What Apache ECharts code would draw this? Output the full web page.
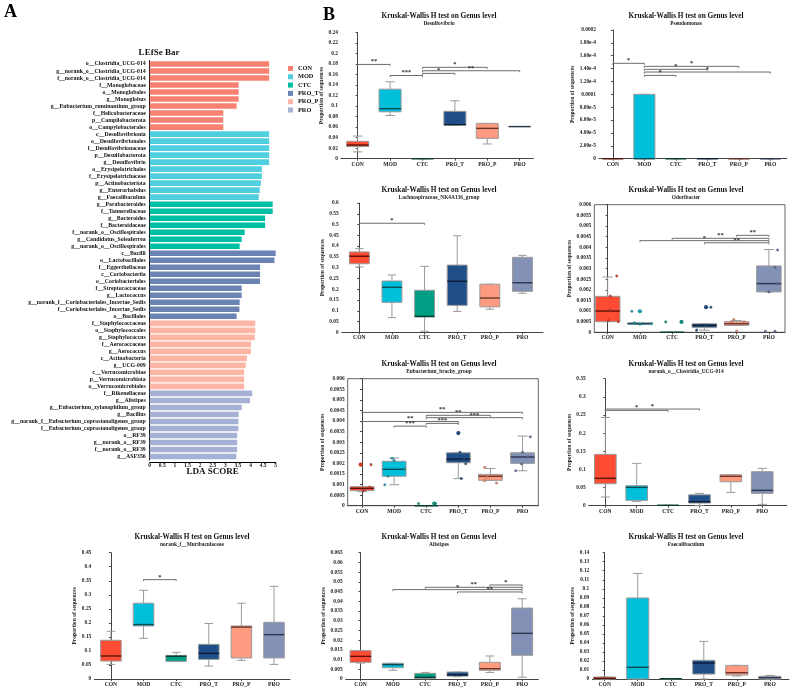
<!DOCTYPE html>
<html><head><meta charset="utf-8">
<script src="https://cdn.jsdelivr.net/npm/echarts@6/dist/echarts.min.js"></script>
<style>html,body{margin:0;padding:0;background:#fff}#c{width:790px;height:690px}</style>
</head><body><div id="c"></div>
<script>
const FONT = '"Liberation Serif", "Times New Roman", serif';
const groups = ['CON','MOD','CTC','PRO_T','PRO_P','PRO'];

// ---------- LEfSe data ----------
const lefseLabels = [
 'o__Clostridia_UCG-014','g__norank_o__Clostridia_UCG-014','f__norank_o__Clostridia_UCG-014','f__Monoglobaceae','o__Monoglobales','g__Monoglobus','g__Eubacterium_ruminantium_group','f__Helicobacteraceae','p__Campilobacterota','o__Campylobacterales',
 'c__Desulfovibrionia','o__Desulfovibrionales','f__Desulfovibrionaceae','p__Desulfobacterota','g__Desulfovibrio','o__Erysipelotrichales','f__Erysipelotrichaceae','p__Actinobacteriota','g__Enterorhabdus','g__Faecalibaculum',
 'g__Parabacteroides','f__Tannerellaceae','g__Bacteroides','f__Bacteroidaceae','f__norank_o__Oscillospirales','g__Candidatus_Soleaferrea','g__norank_o__Oscillospirales',
 'c__Bacilli','o__Lactobacillales','f__Eggerthellaceae','c__Coriobacteriia','o__Coriobacteriales','f__Streptococcaceae','g__Lactococcus','g__norank_f__Coriobacteriales_Incertae_Sedis','f__Coriobacteriales_Incertae_Sedis','o__Bacillales',
 'f__Staphylococcaceae','o__Staphylococcales','g__Staphylococcus','f__Aerococcaceae','g__Aerococcus','c__Actinobacteria','g__UCG-009','c__Verrucomicrobiae','p__Verrucomicrobiota','o__Verrucomicrobiales',
 'f__Rikenellaceae','g__Alistipes','g__Eubacterium_xylanophilum_group','g__Bacillus','g__norank_f__Eubacterium_coprostanoligenes_group','f__Eubacterium_coprostanoligenes_group','o__RF39','g__norank_o__RF39','f__norank_o__RF39','g__ASF356'
];
const lefseScores = [
 4.74,4.74,4.74,3.53,3.53,3.53,3.45,2.92,2.92,2.92,
 4.74,4.74,4.74,4.74,4.74,4.45,4.45,4.41,4.37,4.33,
 4.88,4.88,4.58,4.58,3.77,3.65,3.57,
 5.0,4.95,4.38,4.38,4.38,3.65,3.65,3.57,3.56,3.45,
 4.19,4.19,4.17,4.02,4.02,3.86,3.81,3.75,3.75,3.75,
 4.07,3.98,3.65,3.53,3.52,3.52,3.47,3.47,3.47,3.44
];
const lefseGroups = [
 'CON','CON','CON','CON','CON','CON','CON','CON','CON','CON',
 'MOD','MOD','MOD','MOD','MOD','MOD','MOD','MOD','MOD','MOD',
 'CTC','CTC','CTC','CTC','CTC','CTC','CTC',
 'PRO_T','PRO_T','PRO_T','PRO_T','PRO_T','PRO_T','PRO_T','PRO_T','PRO_T','PRO_T',
 'PRO_P','PRO_P','PRO_P','PRO_P','PRO_P','PRO_P','PRO_P','PRO_P','PRO_P','PRO_P',
 'PRO','PRO','PRO','PRO','PRO','PRO','PRO','PRO','PRO','PRO'
];
const lefseTicks = [0,0.5,1,1.5,2,2.5,3,3.5,4,4.5,5];

// ---------- Boxplot data: [min, Q1, median, Q3, max] per group ----------
const desulBox = [[0.013,0.023,0.026,0.033,0.043],[0.082,0.089,0.095,0.132,0.146],[0,0,0,0,0],[0.064,0.064,0.0646,0.09,0.11],[0.028,0.0386,0.0576,0.067,0.067],[0.061,0.061,0.061,0.061,0.061]];
const desulSig = [['CON','MOD',0.179,'**'],['MOD','CTC',0.158,'***'],['CTC','PRO_T',0.162,'*'],['CTC','PRO_P',0.1735,'*'],['CTC','PRO',0.167,'**']];

const pseudoBox = [[0,0,0,0,0],[0,0,0,0.0001,0.0001],[0,0,0,0,0],[0,0,0,0,0],[0,0,0,0,0],[0,0,0,0,0]];
const pseudoSig = [['CON','MOD',0.0001482,'*'],['MOD','PRO_P',0.0001435,'*'],['MOD','PRO_T',0.0001389,'*'],['MOD','PRO',0.0001347,'*'],['MOD','CTC',0.0001295,'*']];
const pseudoTickLabels = ['0','2.00e-5','4.00e-5','6.00e-5','8.00e-5','0.0001','1.20e-4','1.40e-4','1.60e-4','1.80e-4','0.0002'];

const lachnoBox = [[0.303,0.318,0.353,0.373,0.388],[0.068,0.139,0.209,0.238,0.266],[0.005,0.071,0.074,0.195,0.306],[0.097,0.125,0.237,0.312,0.448],[0.107,0.118,0.159,0.223,0.223],[0.181,0.19,0.23,0.348,0.357]];
const lachnoSig = [['CON','CTC',0.506,'*']];

const odoBox = [[0.0005,0.0005,0.001,0.00169,0.0026],[0.00038,0.00039,0.0004,0.00045,0.00045],[0,0,0,0,0],[0.0001,0.00022,0.00033,0.0004,0.0004],[0.00033,0.00033,0.0004,0.0005,0.00055],[0.0019,0.0019,0.00229,0.00312,0.00389]];
const odoSig = [['PRO_P','PRO',0.00456,'**'],['CTC','PRO',0.00442,'**'],['MOD','PRO',0.00431,'*'],['PRO_T','PRO',0.00421,'**']];
const odoPoints = [[0.00265,0.0017,0.00106,0.00056,0.0005],[0.00099,0.00045,0.00038,0.0004],[0.00049],[0.00118,0.0001,0.00033],[0.0006,0.00049,0.00049,0.00006],[0.00387,0.00305,0.00229,0.0019,0.00005,0.00005]];
const odoOutliers = [[],[0.00099],[0.00049],[0.00118],[],[]];

const eubBox = [[0.00066,0.00071,0.00082,0.0009,0.0009],[0.00099,0.00139,0.00172,0.0021,0.00225],[0,0,0,0,0],[0.00128,0.00203,0.0022,0.0025,0.0025],[0.0012,0.0012,0.00139,0.00148,0.00176],[0.00165,0.002,0.0023,0.0025,0.00329]];
const eubSig = [['CON','PRO',0.00441,'**'],['CTC','PRO_P',0.00427,'**'],['CTC','PRO',0.00416,'***'],['CON','PRO_T',0.00398,'**'],['CTC','PRO_T',0.00389,'***'],['MOD','CTC',0.00376,'***']];
const eubPoints = [[0.00194,0.00088,0.00074,0.0007],[0.00224,0.00213,0.00139,0.00173,0.00099],[0.0001,0.0001],[0.00252,0.0022,0.00198,0.00128],[0.00181,0.00137,0.00118,0.00107],[0.00326,0.00197,0.0023,0.00165,0.00252]];
const eubOutliers = [[0.00194],[],[0.0001],[0.00343],[],[]];

const clostBox = [[0.0239,0.0606,0.0753,0.1415,0.243],[0.012,0.0147,0.0505,0.0551,0.1167],[0.001,0.001,0.001,0.001,0.001],[0,0.0073,0.011,0.030,0.034],[0.0367,0.066,0.081,0.0854,0.0854],[0.0037,0.034,0.0423,0.0937,0.103]];
const clostSig = [['CON','PRO_T',0.2664,'*'],['CON','CTC',0.2627,'*']];

const muriBox = [[0.052,0.064,0.082,0.138,0.170],[0.145,0.189,0.194,0.270,0.316],[0.063,0.063,0.081,0.084,0.095],[0.046,0.070,0.0914,0.1235,0.198],[0.0665,0.075,0.185,0.189,0.27],[0.052,0.075,0.158,0.202,0.330]];
const muriSig = [['MOD','CTC',0.354,'*']];

const alisBox = [[0.0082,0.00858,0.01166,0.0146,0.0146],[0.0045,0.0058,0.0074,0.0081,0.0081],[0.0002,0.0003,0.00086,0.0029,0.0034],[0.0012,0.0015,0.0021,0.0036,0.0036],[0.0034,0.0045,0.0053,0.0086,0.01184],[0.0009,0.0122,0.0235,0.0365,0.0413]];
const alisSig = [['PRO_P','PRO',0.0484,'*'],['CTC','PRO',0.0472,'**'],['MOD','PRO',0.046,'*'],['PRO_T','PRO',0.0448,'**']];

const faecBox = [[0,0,0.0007,0.0022,0.0022],[0,0,0.0129,0.0898,0.117],[0.0003,0.0003,0.0003,0.0003,0.0003],[0,0.0055,0.0177,0.0207,0.0417],[0.0033,0.0044,0.007,0.0151,0.0151],[0,0,0.0015,0.003,0.004]];

// ---------- styles / layout ----------
const lefseColors = {CON:'#FA8072',MOD:'#50CFE0',CTC:'#00BFA3',PRO_T:'#6C84B4',PRO_P:'#FDB5A5',PRO:'#A4B1D4'};
const boxColors = ['#FE4C34','#00BFDB','#009E83','#1F4E89','#FE9A80','#8391B6'];
const medColors = ['#5a1208','#0b4a55','#053d32','#0b1d35','#6a3428','#2e3650'];
const pointColors = ['#c9331f','#1593aa','#0a876f','#1a3e70','#e57c63','#56668f'];
const odoOffsets = [[0.28,0.08,0.09,0.02,0.33],[-0.25,-0.18,0,0.36],[-0.2],[0.2,-0.24,0.03],[-0.09,-0.17,0.23,0],[0.27,0.19,0.26,0,-0.11,0.19]];
const odoOutOffsets = [[],[0],[0.29],[0.05],[],[]];
const eubOffsets = [[0.28,0.24,0.07,0.03],[-0.06,0,-0.19,0.32,-0.29],[-0.24,0.29],[0.05,0.17,0.23,0.09],[-0.18,-0.1,-0.18,0.19],[0.24,-0.03,0.16,-0.21,0]];
const eubOutOffsets = [[-0.04],[],[0.25],[0],[],[]];

const panels = [
 {sub:'Desulfovibrio', box:desulBox, sig:desulSig, yMax:0.24, yInt:0.02,
  left:341, top:32.3, width:192.3, height:126.4, xmin:-0.515, xmax:5.42, boxW:0.68, nameGap:13, tx:439, ty:16},
 {sub:'Pseudomonas', box:pseudoBox, sig:pseudoSig, yMax:0.0002, yInt:0.00002, labels:pseudoTickLabels,
  left:599, top:30, width:187.7, height:128.7, xmin:-0.44, xmax:5.52, boxW:0.67, nameGap:22.5, tx:686, ty:16},
 {sub:'Lachnospiraceae_NK4A136_group', box:lachnoBox, sig:lachnoSig, yMax:0.6, yInt:0.05,
  left:341.7, top:203, width:201.3, height:129.3, xmin:-0.54, xmax:5.63, boxW:0.61, nameGap:13.5, tx:439, ty:190},
 {sub:'Odoribacter', box:odoBox, sig:odoSig, yMax:0.006, yInt:0.0005, frame:true,
  points:odoPoints, offsets:odoOffsets, outliers:odoOutliers, outOffsets:odoOutOffsets,
  left:594.3, top:204.7, width:190.7, height:127.6, xmin:-0.415, xmax:5.5, boxW:0.76, nameGap:19, tx:686, ty:190},
 {sub:'Eubacterium_brachy_group', box:eubBox, sig:eubSig, yMax:0.006, yInt:0.0005, frame:true,
  points:eubPoints, offsets:eubOffsets, outliers:eubOutliers, outOffsets:eubOutOffsets,
  left:347.7, top:378.7, width:190.6, height:127, xmin:-0.445, xmax:5.49, boxW:0.74, nameGap:19.5, tx:439, ty:364},
 {sub:'norank_o__Clostridia_UCG-014', box:clostBox, sig:clostSig, yMax:0.35, yInt:0.05,
  left:588.7, top:378.7, width:198, height:127, xmin:-0.53, xmax:5.78, boxW:0.69, nameGap:13.4, tx:686, ty:364},
 {sub:'norank_f__Muribaculaceae', box:muriBox, sig:muriSig, yMax:0.45, yInt:0.05,
  left:94.3, top:552.7, width:195.7, height:126.3, xmin:-0.51, xmax:5.49, boxW:0.63, nameGap:13, tx:192, ty:537},
 {sub:'Alistipes', box:alisBox, sig:alisSig, yMax:0.065, yInt:0.005,
  left:345.7, top:552.7, width:192.6, height:126.3, xmin:-0.46, xmax:5.5, boxW:0.65, nameGap:17.5, tx:439, ty:537},
 {sub:'Faecalibaculum', box:faecBox, sig:[], yMax:0.14, yInt:0.01,
  left:592.3, top:552.7, width:196.7, height:126.3, xmin:-0.376, xmax:5.58, boxW:0.67, nameGap:17, tx:686, ty:537}
];

const grid = [], xAxis = [], yAxis = [], series = [], graphic = [];

// LEfSe grid (index 0)
grid.push({left:149.7, top:60.5, width:126, height:399.5, containLabel:false});
xAxis.push({type:'value', gridIndex:0, min:0, max:5, interval:0.5, offset:2,
  axisLine:{show:true, lineStyle:{color:'#000', width:1}}, axisTick:{show:false},
  splitLine:{show:false},
  axisLabel:{margin:0.5, fontSize:5.5, fontWeight:'bold', fontFamily:FONT, color:'#111',
    formatter:v=>String(lefseTicks[Math.round(v*2)])},
  name:'LDA SCORE', nameLocation:'middle', nameGap:5, nameMoveOverlap:false,
  nameTextStyle:{fontSize:9, fontWeight:'bold', fontFamily:FONT, color:'#111', verticalAlign:'top'}});
yAxis.push({type:'category', gridIndex:0, data:lefseLabels, inverse:true,
  axisLine:{show:true, lineStyle:{color:'#000', width:1}}, axisTick:{show:false},
  axisLabel:{margin:4, fontSize:5.8, fontWeight:'bold', fontFamily:FONT, color:'#111', interval:0}});
groups.forEach(g=>{
  series.push({type:'bar', name:g, xAxisIndex:0, yAxisIndex:0, stack:'lefse',
    barWidth:5.6, itemStyle:{color:lefseColors[g]},
    data: lefseScores.map((s,k)=> lefseGroups[k]===g ? s : '-')});
});

function boxRenderer(p){
  return function(params, api){
    const i = api.value(0);
    const v = [api.value(1),api.value(2),api.value(3),api.value(4),api.value(5)];
    const band = api.size([1,0])[0];
    const cx = api.coord([i,0])[0];
    const y = v.map(val=>api.coord([i,val])[1]);
    const hw = band*p.boxW/2, cw = hw*0.42;
    const gs = {stroke:'#9a9a9a', lineWidth:1};
    return {type:'group', children:[
      {type:'line', shape:{x1:cx,y1:y[4],x2:cx,y2:y[3]}, style:gs},
      {type:'line', shape:{x1:cx,y1:y[1],x2:cx,y2:y[0]}, style:gs},
      {type:'line', shape:{x1:cx-cw,y1:y[4],x2:cx+cw,y2:y[4]}, style:gs},
      {type:'line', shape:{x1:cx-cw,y1:y[0],x2:cx+cw,y2:y[0]}, style:gs},
      {type:'rect', shape:{x:cx-hw,y:y[3],width:2*hw,height:y[1]-y[3]}, style:{fill:boxColors[i], stroke:'#9a9a9a', lineWidth:1}},
      {type:'line', shape:{x1:cx-hw,y1:y[2],x2:cx+hw,y2:y[2]}, style:{stroke:medColors[i], lineWidth:1.4}}
    ]};
  };
}
function sigRenderer(sig){
  return function(params, api){
    const a = api.coord([api.value(0), api.value(2)]);
    const b = api.coord([api.value(1), api.value(2)]);
    const st = {stroke:'#6d6d6d', lineWidth:1};
    return {type:'group', children:[
      {type:'line', shape:{x1:a[0],y1:a[1],x2:b[0],y2:b[1]}, style:st},
      {type:'line', shape:{x1:a[0],y1:a[1],x2:a[0],y2:a[1]+1.5}, style:st},
      {type:'line', shape:{x1:b[0],y1:b[1],x2:b[0],y2:b[1]+1.5}, style:st},
      {type:'text', x:(a[0]+b[0])/2, y:a[1]+0.8, style:{text:sig[params.dataIndex][3], fill:'#333',
        font:'bold 6.5px '+FONT, align:'center', verticalAlign:'bottom'}}
    ]};
  };
}

const titleText = 'Kruskal-Wallis H test on Genus level';
panels.forEach((p,n)=>{
  const gi = n+1;
  grid.push({left:p.left, top:p.top, width:p.width, height:p.height,
    show:!!p.frame, borderColor:'#666', borderWidth:1, backgroundColor:'transparent'});
  xAxis.push({type:'value', gridIndex:gi, min:p.xmin, max:p.xmax,
    axisLine:{show:true, onZero:false, lineStyle:{color:'#444', width:1}},
    axisTick:{show:true, length:2, customValues:[0,1,2,3,4,5], lineStyle:{color:'#444'}},
    splitLine:{show:false},
    axisLabel:{customValues:[0,1,2,3,4,5], margin:2.5, fontSize:5.6, fontWeight:'bold', fontFamily:FONT, color:'#222',
      formatter:v=>groups[Math.round(v)]}});
  yAxis.push({type:'value', gridIndex:gi, min:0, max:p.yMax, interval:p.yInt,
    axisLine:{show:true, lineStyle:{color:'#444', width:1}},
    axisTick:{show:true, length:2, lineStyle:{color:'#444'}},
    splitLine:{show:false},
    axisLabel:{margin:3, fontSize:5.4, fontWeight:'bold', fontFamily:FONT, color:'#222',
      formatter: p.labels ? (v=>p.labels[Math.round(v/p.yInt)]) : (v=>String(+v.toPrecision(6)))},
    name:'Proportion of sequences', nameLocation:'middle', nameRotate:90, nameGap:p.nameGap,
    nameTextStyle:{fontSize:5.6, fontWeight:'bold', fontFamily:FONT, color:'#222'}});
  series.push({type:'custom', xAxisIndex:gi, yAxisIndex:gi, renderItem:boxRenderer(p),
    encode:{x:0, y:[1,2,3,4,5]}, clip:false, z:2,
    data:p.box.map((b,i)=>[i].concat(b))});
  if (p.points){
    const pd=[], od=[];
    p.points.forEach((arr,i)=>arr.forEach((v,k)=>pd.push({value:[i+p.offsets[i][k], v], itemStyle:{color:pointColors[i]}})));
    p.outliers.forEach((arr,i)=>arr.forEach((v,k)=>od.push({value:[i+p.outOffsets[i][k], v], itemStyle:{color:pointColors[i]}})));
    series.push({type:'scatter', xAxisIndex:gi, yAxisIndex:gi, symbolSize:2.6, z:4, data:pd,
      itemStyle:{opacity:0.9, borderColor:'rgba(80,80,80,0.6)', borderWidth:0.4}});
    series.push({type:'scatter', xAxisIndex:gi, yAxisIndex:gi, symbolSize:4.2, z:4, data:od,
      itemStyle:{opacity:0.95}});
  }
  if (p.sig.length){
    series.push({type:'custom', xAxisIndex:gi, yAxisIndex:gi, renderItem:sigRenderer(p.sig),
      encode:{x:[0,1], y:2}, clip:false, z:5,
      data:p.sig.map(s=>[groups.indexOf(s[0]), groups.indexOf(s[1]), s[2]])});
  }
  graphic.push({type:'text', x:p.tx, y:p.ty, style:{text:titleText, fill:'#111', font:'bold 7.3px '+FONT, align:'center', verticalAlign:'middle'}});
  graphic.push({type:'text', x:p.tx, y:p.ty+8, style:{text:p.sub, fill:'#222', font:'bold 5.4px '+FONT, align:'center', verticalAlign:'middle'}});
});

graphic.push({type:'text', x:10.5, y:12.5, style:{text:'A', fill:'#000', font:'bold 18px '+FONT, align:'center', verticalAlign:'middle'}});
graphic.push({type:'text', x:329, y:15, style:{text:'B', fill:'#000', font:'bold 18px '+FONT, align:'center', verticalAlign:'middle'}});
graphic.push({type:'text', x:159, y:52.7, style:{text:'LEfSe Bar', fill:'#111', font:'bold 9px '+FONT, align:'center', verticalAlign:'middle'}});

const chart = echarts.init(document.getElementById('c'), null, {renderer:'canvas'});
chart.setOption({
  backgroundColor:'#fff', animation:false,
  grid, xAxis, yAxis, series, graphic,
  legend:{data:groups, orient:'vertical', left:283, top:60.5, itemWidth:5, itemHeight:5, itemGap:2.3, icon:'rect',
    textStyle:{fontSize:6.3, fontWeight:'bold', fontFamily:FONT, color:'#111', lineHeight:6}}
});
</script></body></html>
